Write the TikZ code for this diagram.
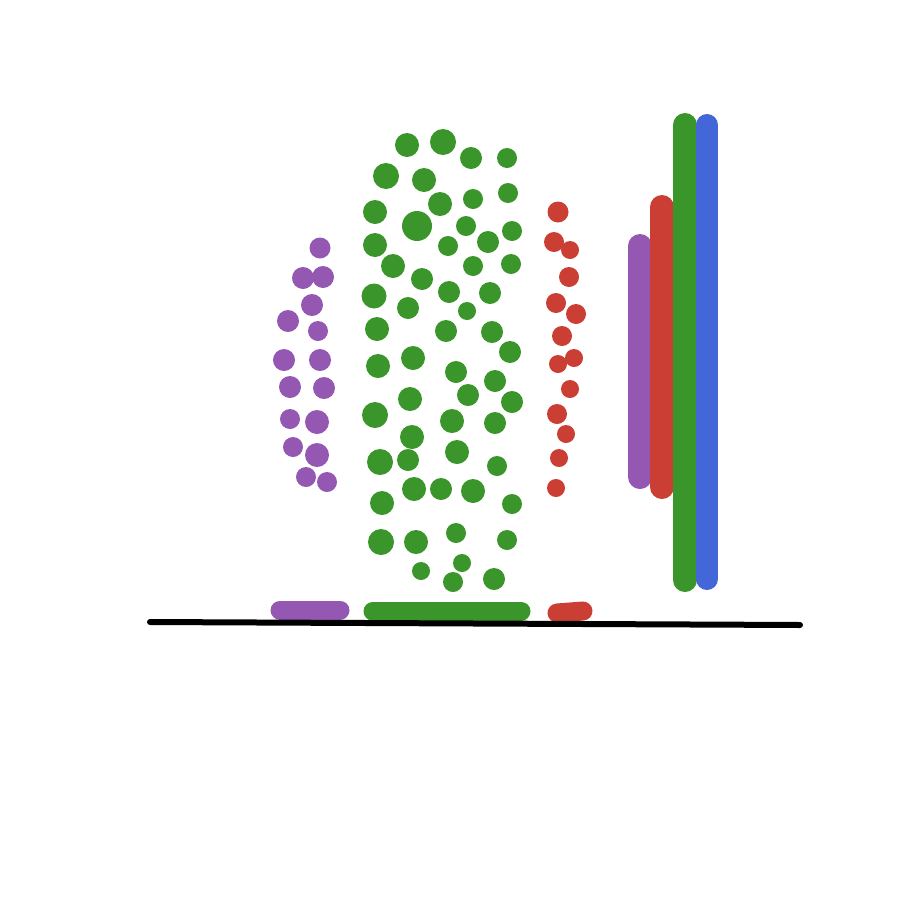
\documentclass[tikz,border=0pt]{standalone}
\definecolor{pp}{HTML}{9558B2}
\definecolor{gg}{HTML}{3A962A}
\definecolor{rr}{HTML}{CB3E33}
\definecolor{bb}{HTML}{4366D9}
\begin{document}
\begin{tikzpicture}[x=1pt,y=-1pt,
  pdot/.style={fill=pp},
  gdot/.style={fill=gg},
  rdot/.style={fill=rr},
  bar/.style={line width=#1, line cap=round}]
\useasboundingbox (0,0) rectangle (900,900);
% purple dots
\foreach \x/\y/\r in {320/248/10.5,303/278/11,323/277/11,312/305/11,288/321/11,318/331/10,284/360/11,320/360/11,290/387/11,324/388/11,290/419/10,317/422/12,293/447/10,317/455/12,306/477/10,327/482/10}
  \fill[pdot] (\x,\y) circle (\r);
% red dots
\foreach \x/\y/\r in {558/212/10.5,554/242/10,570/250/9,569/277/10,556/303/10,576/314/10,562/336/10,574/358/9,558/364/9,570/389/9,557/414/10,566/434/9,559/458/9,556/488/9}
  \fill[rdot] (\x,\y) circle (\r);
% green dots
\foreach \x/\y/\r in {407/145/12,443/142/13,471/158/11,507/158/10,386/176/13,424/180/12,375/212/12,440/204/12,473/199/10,508/193/10,417/226/15,466/226/10,512/231/10,375/245/12,448/246/10,488/242/11,393/266/12,473/266/10,511/264/10,422/279/11,374/296/12.5,449/292/11,490/293/11,408/308/11,467/311/9,377/329/12,446/331/11,492/332/11,
378/366/12,413/358/12,510/352/11,456/372/11,495/381/11,468/395/11,410/399/12,512/402/11,375/415/13,452/421/12,495/423/11,412/437/12,380/462/13,408/460/11,457/452/12,497/466/10,382/503/12,414/489/12,441/489/11,473/491/12,512/504/10,381/542/13,416/542/12,456/533/10,507/540/10,462/563/9,421/571/9,453/582/10,494/579/11}
  \fill[gdot] (\x,\y) circle (\r);
% vertical bars
\coordinate (pv1) at (640,246); \coordinate (pv2) at (640,477);
\coordinate (rv1) at (662,207); \coordinate (rv2) at (662,487);
\coordinate (gv1) at (685,125); \coordinate (gv2) at (685,580);
\coordinate (bv1) at (707,125); \coordinate (bv2) at (707,579);
\draw[pp,bar=24] (pv1) -- (pv2);
\draw[rr,bar=24] (rv1) -- (rv2);
\draw[gg,bar=24] (gv1) -- (gv2);
\draw[bb,bar=22] (bv1) -- (bv2);
% horizontal bars
\coordinate (ph1) at (280,610); \coordinate (ph2) at (340,610);
\coordinate (gh1) at (373,611); \coordinate (gh2) at (521,611);
\coordinate (rh1) at (557,613); \coordinate (rh2) at (583,611);
\draw[pp,bar=19] (ph1) -- (ph2);
\draw[gg,bar=19] (gh1) -- (gh2);
\draw[rr,bar=19] (rh1) -- (rh2);
% baseline
\coordinate (b1) at (150,622); \coordinate (b2) at (800,625);
\draw[black,bar=6] (b1) -- (b2);
\end{tikzpicture}
\end{document}
